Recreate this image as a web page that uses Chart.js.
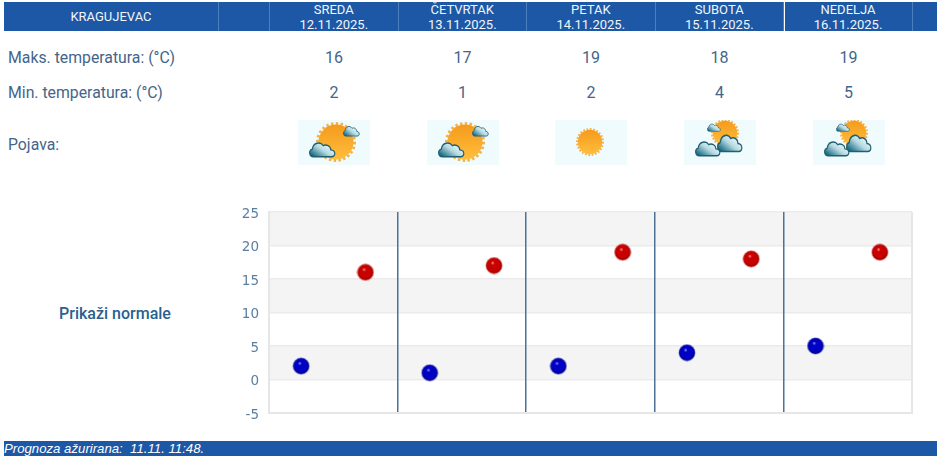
<!DOCTYPE html>
<html>
<head>
<meta charset="utf-8">
<script src="https://cdn.jsdelivr.net/npm/chart.js@4"></script>
<style>
  html, body { margin: 0; padding: 0; background: #fff; }
  #page { position: relative; width: 940px; height: 459px; overflow: hidden; font-family: Roboto, sans-serif; color: #44658a; }
  #page > div, #page > canvas, #page > svg { position: absolute; }
  .head { top: 2px; height: 29px; padding-top: 1px; background: #1c58a5; color: #f1f5fa; font-size: 13px; line-height: 14.5px; text-align: center; box-sizing: border-box; border-right: 1px solid #4a80bd; overflow: hidden; }
  .rowlabel { left: 8px; font-size: 15.8px; line-height: 20px; white-space: nowrap; }
  .val { width: 128px; text-align: center; font-size: 16px; line-height: 20px; }
  #normale { left: 30px; width: 170px; top: 304px; text-align: center; font-size: 16px; line-height: 20px; font-weight: 500; color: #2a5f8f; }
  #footer { left: 4px; top: 441px; width: 933px; height: 15px; background: #1c58a5; color: #fff; font: italic 13.2px/15px "Liberation Sans", sans-serif; white-space: pre; }
  #chart { left: 230px; top: 200px; }
</style>
</head>
<body>
<div id="page">
  <svg width="0" height="0">
    <defs>
      <linearGradient id="sun" x1="0.5" y1="0" x2="0.5" y2="1"><stop offset="0" stop-color="#f59a1c"/><stop offset="1" stop-color="#ffbe3c"/></linearGradient>
      <linearGradient id="cloud" x1="1" y1="0" x2="0" y2="0.8"><stop offset="0.15" stop-color="#f6fbfc"/><stop offset="0.55" stop-color="#b5dae2"/><stop offset="1" stop-color="#14677f"/></linearGradient>
      <symbol id="cloudShape" viewBox="2 4 36 20" preserveAspectRatio="none">
        <path d="M8 22.5 C2 22.5 1 15 6.5 13.5 C7.5 6 17 4 21 9.5 C25 7.5 31 10 31 14.5 C38 15 38 22.5 32 22.5 Z" fill="url(#cloud)" stroke="#1f5f72" stroke-width="1.6"/>
      </symbol>
      <symbol id="sunShape" viewBox="0 0 40 40">
        <circle cx="20" cy="20" r="18.5" fill="none" stroke="#f5b04a" stroke-width="3" stroke-dasharray="2.4 2.4"/>
        <circle cx="20" cy="20" r="17.5" fill="url(#sun)"/>
      </symbol>
    </defs>
  </svg>
  <div class="rowlabel" style="top:48px">Maks. temperatura: (°C)</div>
  <div class="rowlabel" style="top:83px">Min. temperatura: (°C)</div>
  <div class="rowlabel" style="top:135px">Pojava:</div>
  <div id="normale">Prikaži normale</div>
  <canvas id="chart" width="700" height="225"></canvas>
  <div id="footer">Prognoza ažurirana:  11.11. 11:48.</div>
</div>
<script>
const stationName = 'KRAGUJEVAC';
const dayNames = ['SREDA', 'ČETVRTAK', 'PETAK', 'SUBOTA', 'NEDELJA'];
const dates = ['12.11.2025.', '13.11.2025.', '14.11.2025.', '15.11.2025.', '16.11.2025.'];
const maxTemps = [16, 17, 19, 18, 19];
const minTemps = [2, 1, 2, 4, 5];
const weather = ['mostlySunny', 'mostlySunny', 'sunny', 'partlyCloudy', 'partlyCloudy'];
const yTicks = [-5, 0, 5, 10, 15, 20, 25];

const page = document.getElementById('page');

function addDiv(className, style, html) {
  const d = document.createElement('div');
  d.className = className;
  d.style.cssText = style;
  d.innerHTML = html;
  page.appendChild(d);
}

// header strip
addDiv('head', 'left:4px;width:215px;line-height:27px', stationName);
addDiv('head', 'left:219px;width:51px', '');
const colLeft = [270, 398.5, 527, 655.5, 784.5];
dayNames.forEach((name, i) => {
  addDiv('head', `left:${colLeft[i]}px;width:${i === 4 ? 128 : 128.5}px`, name + '<br>' + dates[i]);
  addDiv('val', `left:${colLeft[i]}px;top:48px`, maxTemps[i]);
  addDiv('val', `left:${colLeft[i]}px;top:83px`, minTemps[i]);
});
addDiv('head', 'left:912.5px;width:24.5px;border-right:0', '');

// weather icons
const icons = {
  mostlySunny: `<use href="#sunShape" x="18" y="2" width="40" height="40"/>
    <use href="#cloudShape" x="11" y="21" width="27" height="17"/>
    <use href="#cloudShape" x="45" y="5" width="17" height="12"/>`,
  sunny: `<use href="#sunShape" x="21" y="8" width="28" height="28"/>`,
  partlyCloudy: `<use href="#sunShape" x="27" y="-1" width="28" height="28"/>
    <use href="#cloudShape" x="23" y="3" width="14" height="9"/>
    <use href="#cloudShape" x="33" y="13" width="26" height="20"/>
    <use href="#cloudShape" x="11" y="20" width="26" height="17"/>`
};
weather.forEach((w, i) => {
  const left = colLeft[i] + 28;
  const box = document.createElementNS('http://www.w3.org/2000/svg', 'svg');
  box.setAttribute('width', 72);
  box.setAttribute('height', 45);
  box.style.cssText = `left:${left}px;top:120px;background:#f0fbfd`;
  box.innerHTML = icons[w];
  page.appendChild(box);
});

// shiny ball used as the point marker
function makeBall(base, light, dark, halo) {
  const c = document.createElement('canvas');
  c.width = 18; c.height = 18;
  const g = c.getContext('2d');
  const grad = g.createRadialGradient(7.5, 6, 0.3, 9, 9, 8.5);
  grad.addColorStop(0, light);
  grad.addColorStop(0.2, base);
  grad.addColorStop(0.7, base);
  grad.addColorStop(1, dark);
  g.beginPath();
  g.arc(9, 9, 8.2, 0, Math.PI * 2);
  g.fillStyle = grad;
  g.fill();
  g.strokeStyle = halo;
  g.lineWidth = 1;
  g.stroke();
  return c;
}
const redBall = makeBall('#c80000', '#ff8a8a', '#8a0000', 'rgba(240,130,130,0.6)');
const blueBall = makeBall('#0000c4', '#7f8cff', '#00007c', 'rgba(120,130,220,0.5)');

const bandsPlugin = {
  id: 'bands',
  beforeDraw(chart) {
    const { ctx, chartArea: a, scales: { y } } = chart;
    ctx.save();
    ctx.fillStyle = '#f4f4f4';
    [[20, 25], [10, 15], [0, 5]].forEach(([lo, hi]) => {
      const top = y.getPixelForValue(hi);
      ctx.fillRect(a.left, top, a.width, y.getPixelForValue(lo) - top);
    });
    ctx.restore();
  }
};

new Chart(document.getElementById('chart'), {
  type: 'scatter',
  data: {
    datasets: [
      {
        label: 'Min',
        data: minTemps.map((v, i) => ({ x: i + 0.25, y: v })),
        pointStyle: blueBall,
        pointRadius: 9
      },
      {
        label: 'Maks',
        data: maxTemps.map((v, i) => ({ x: i + 0.75, y: v })),
        pointStyle: redBall,
        pointRadius: 9
      }
    ]
  },
  options: {
    responsive: false,
    animation: false,
    layout: { autoPadding: false, padding: { top: 12, right: 18, bottom: 12, left: 0 } },
    plugins: { legend: { display: false }, tooltip: { enabled: false } },
    scales: {
      x: {
        type: 'linear',
        min: 0,
        max: dayNames.length,
        afterBuildTicks: (axis) => { axis.ticks = dayNames.map((_, i) => ({ value: i })).concat({ value: dayNames.length }); },
        ticks: { display: false },
        border: { color: '#e6e6e6', width: 2 },
        grid: {
          drawTicks: false,
          lineWidth: (c) => (c.index === 0 || c.index === dayNames.length ? 2 : 1.5),
          color: (c) => (c.index === 0 || c.index === dayNames.length ? '#e6e6e6' : '#4c7396')
        }
      },
      y: {
        min: -5,
        max: 25,
        afterBuildTicks: (axis) => { axis.ticks = yTicks.map(v => ({ value: v })); },
        // fixed axis box, tick padding must not eat into the plot height
        afterFit: (axis) => { axis.width = 39; axis.paddingTop = 0; axis.paddingBottom = 0; },
        border: { color: '#e6e6e6', width: 2 },
        grid: { z: -2, color: '#ebebeb', lineWidth: 1.5, drawTicks: false },
        ticks: {
          color: '#5b7fa0',
          padding: 10,
          // blank first line nudges the label about 2px below the grid line
          callback: (v) => ['', String(v)],
          font: { family: "'DejaVu Sans'", size: 13.5, lineHeight: 0.3 }
        }
      }
    }
  },
  plugins: [bandsPlugin]
});
</script>
</body>
</html>
